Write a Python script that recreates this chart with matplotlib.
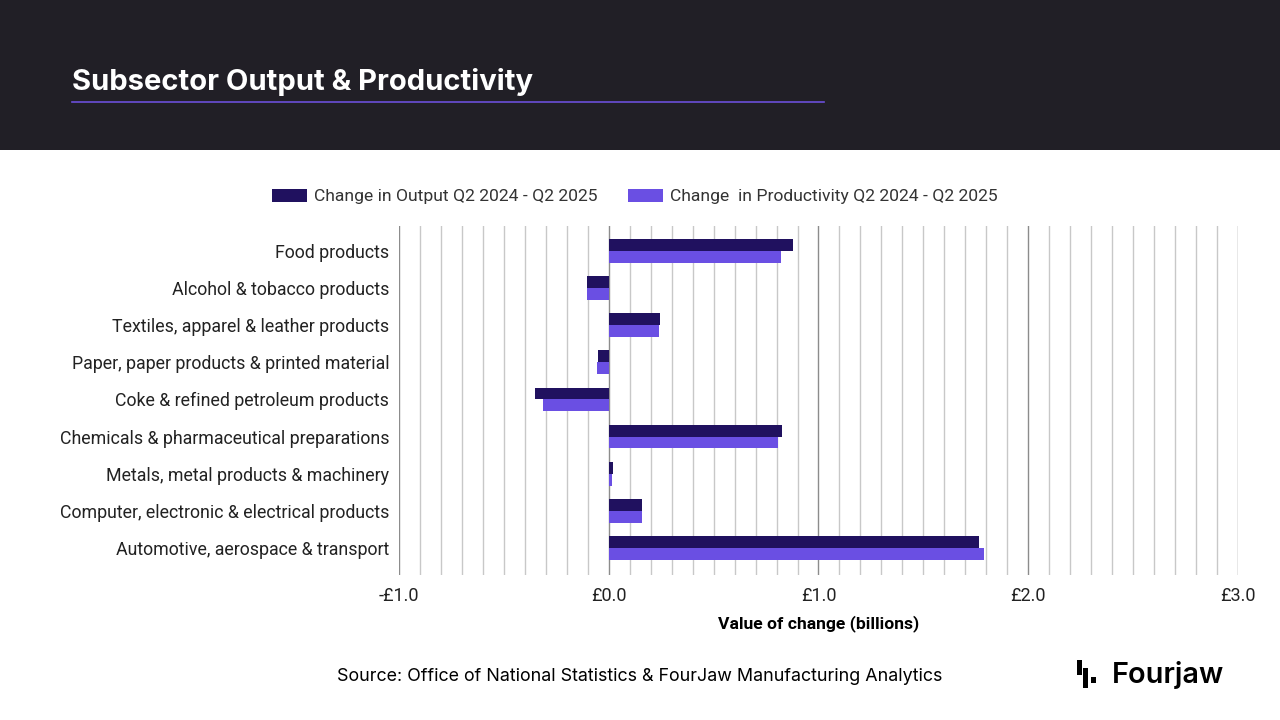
import numpy as np
import matplotlib.pyplot as plt
from matplotlib.patches import Rectangle
from matplotlib.ticker import MultipleLocator

# Dados (bilhões de £)
categorias = [
    "Food products",
    "Alcohol & tobacco products",
    "Textiles, apparel & leather products",
    "Paper, paper products & printed material",
    "Coke & refined petroleum products",
    "Chemicals & pharmaceutical preparations",
    "Metals, metal products & machinery",
    "Computer, electronic & electrical products",
    "Automotive, aerospace & transport",
]
output_change = [0.88, -0.105, 0.243, -0.052, -0.353, 0.825, 0.019, 0.157, 1.764]
productivity_change = [0.82, -0.105, 0.238, -0.057, -0.315, 0.806, 0.014, 0.157, 1.788]
serie_nomes = ["Change in Output Q2 2024 - Q2 2025", "Change  in Productivity Q2 2024 - Q2 2025"]
x_ticks = [-1.0, 0.0, 1.0, 2.0, 3.0]
x_labels = ["-£1.0", "£0.0", "£1.0", "£2.0", "£3.0"]

cor_output = "#20115f"
cor_prod = "#6a4fe3"

fig = plt.figure(figsize=(12.8, 7.2), dpi=100)
fig.patch.set_facecolor("white")

# Faixa escura do cabeçalho
fig.add_artist(Rectangle((0, 0.7917), 1, 0.2083, transform=fig.transFigure,
                         facecolor="#211f26", edgecolor="none", zorder=0))
fig.text(0.056, 0.886, "Subsector Output & Productivity", color="white",
         fontsize=21, fontweight="bold", family="Inter", va="center", ha="left")
fig.add_artist(plt.Line2D([0.056, 0.644], [0.858, 0.858], transform=fig.transFigure,
                          color="#6b4fd8", linewidth=1.2))

ax = fig.add_axes([0.3117, 0.2014, 0.6555, 0.4847])
y = np.arange(len(categorias))
h = 0.32
ax.barh(y - h / 2, output_change, height=h, color=cor_output, label=serie_nomes[0], zorder=3)
ax.barh(y + h / 2, productivity_change, height=h, color=cor_prod, label=serie_nomes[1], zorder=3)

ax.set_xlim(-1, 3)
ax.set_ylim(len(categorias) - 0.27, -0.67)
ax.set_yticks(y)
ax.set_yticklabels(categorias, fontsize=12.8, family="Roboto", color="#222222")
ax.set_xticks(x_ticks)
ax.set_xticklabels(x_labels, fontsize=13, family="Roboto", color="#222222")
ax.xaxis.set_minor_locator(MultipleLocator(0.1))
ax.tick_params(axis="both", which="both", length=0)
ax.tick_params(axis="x", pad=9)
ax.tick_params(axis="y", pad=7)
ax.grid(axis="x", which="minor", color="#c8c8c8", linewidth=1, zorder=0)
ax.grid(axis="x", which="major", color="#8c8c8c", linewidth=1, zorder=0)
for s in ax.spines.values():
    s.set_visible(False)
ax.set_xlabel("Value of change (billions)", fontsize=12.6, fontweight="bold",
              family="Roboto", color="black", labelpad=7)

fig.legend(loc="center", bbox_to_anchor=(0.496, 0.727), ncol=2, frameon=False,
           prop={"family": "Roboto", "size": 12.6}, handlelength=2.0, handleheight=0.8,
           columnspacing=1.7, handletextpad=0.4, labelcolor="#333333")

fig.text(0.5, 0.06, "Source: Office of National Statistics & FourJaw Manufacturing Analytics",
         fontsize=12.9, family="Inter", ha="center", va="center", color="black")

# Logo Fourjaw
for (lx, ly, lw, lh) in [(0.8414, 0.0625, 0.0041, 0.0208), (0.8462, 0.0444, 0.0037, 0.028),
                         (0.8523, 0.0514, 0.0043, 0.0083)]:
    fig.add_artist(Rectangle((lx, ly), lw, lh, transform=fig.transFigure,
                             facecolor="black", edgecolor="none"))
fig.text(0.869, 0.062, "Fourjaw", fontsize=20.8, fontweight="semibold", family="Inter",
         ha="left", va="center", color="black")

plt.savefig("out.png", dpi=100)
